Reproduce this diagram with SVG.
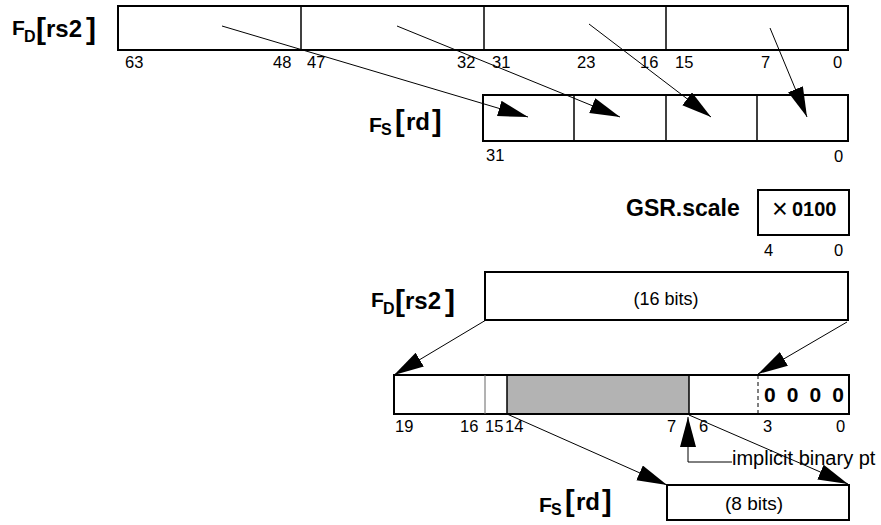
<svg xmlns="http://www.w3.org/2000/svg" width="881" height="525" viewBox="0 0 881 525">
<style>
.box{fill:#fff;stroke:#000;stroke-width:2}
.div{stroke:#000;stroke-width:1.5;fill:none}
.num{font-family:"Liberation Sans",Arial,sans-serif;font-size:16.5px;fill:#000}
.lbl{font-family:"Liberation Sans",Arial,sans-serif;font-weight:bold;fill:#000}
.txt{font-family:"Liberation Sans",Arial,sans-serif;fill:#000}
.con{stroke:#000;stroke-width:1;fill:none}
</style>
<defs>
<marker id="ah" markerUnits="userSpaceOnUse" markerWidth="32" markerHeight="18" refX="30" refY="8" orient="auto" viewBox="0 0 32 18">
<path d="M0,0 L30,8 L0,16 Z" fill="#000"/>
</marker>
<g id="lblFD">
<text class="lbl"><tspan x="12" y="35" font-size="21">F</tspan><tspan x="24" y="42" font-size="16">D</tspan><tspan x="36" y="39" font-size="30">[</tspan><tspan x="46" y="37" font-size="24">rs2</tspan><tspan x="86" y="39" font-size="30">]</tspan></text>
</g>
<g id="lblFS">
<text class="lbl"><tspan x="369" y="132" font-size="21">F</tspan><tspan x="381" y="135" font-size="16">S</tspan><tspan x="395" y="131" font-size="29">[</tspan><tspan x="406" y="130" font-size="24">rd</tspan><tspan x="432" y="131" font-size="29">]</tspan></text>
</g>
</defs>

<g id="fd-rs2-top">
<use href="#lblFD"/>
<rect class="box" x="118" y="6" width="730" height="44"/>
<line class="div" x1="301" y1="6" x2="301" y2="50"/>
<line class="div" x1="484" y1="6" x2="484" y2="50"/>
<line class="div" x1="666" y1="6" x2="666" y2="50"/>
<text class="num" y="68"><tspan x="125">63</tspan><tspan x="273">48</tspan><tspan x="307">47</tspan><tspan x="457">32</tspan><tspan x="492">31</tspan><tspan x="577">23</tspan><tspan x="640">16</tspan><tspan x="675">15</tspan><tspan x="761">7</tspan><tspan x="833">0</tspan></text>
</g>

<g id="fs-rd-top">
<use href="#lblFS"/>
<rect class="box" x="483" y="95" width="365" height="46"/>
<line class="div" x1="574" y1="95" x2="574" y2="141"/>
<line class="div" x1="666" y1="95" x2="666" y2="141"/>
<line class="div" x1="757" y1="95" x2="757" y2="141"/>
<text class="num" x="486" y="161">31</text>
<text class="num" x="834" y="162">0</text>
</g>

<g id="gsr-scale">
<text class="lbl" x="626" y="216" font-size="23">GSR.scale</text>
<rect class="box" x="758" y="190" width="91" height="45"/>
<text class="txt" x="772" y="218" font-size="27">×</text>
<text class="lbl" x="792" y="216" font-size="20">0100</text>
<text class="num" x="764" y="256">4</text>
<text class="num" x="834" y="256">0</text>
</g>

<g id="fd-rs2-bottom">
<use href="#lblFD" transform="translate(359,272)"/>
<rect class="box" x="485" y="272" width="363" height="48"/>
<text class="txt" x="666" y="305" font-size="18" text-anchor="middle">(16 bits)</text>
</g>

<g id="intermediate">
<rect class="box" x="394" y="375" width="455" height="39"/>
<rect x="507" y="376" width="182" height="37" fill="#b3b3b3"/>
<line stroke="#666" stroke-width="1" x1="485" y1="375" x2="485" y2="414"/>
<line class="div" x1="507" y1="375" x2="507" y2="414"/>
<line class="div" x1="689" y1="375" x2="689" y2="414"/>
<line stroke="#000" stroke-width="1" stroke-dasharray="4,3" x1="758" y1="375" x2="758" y2="414"/>
<text class="lbl" x="764" y="402" font-size="21" textLength="80" lengthAdjust="spacing">0 0 0 0</text>
<text class="num" y="432"><tspan x="395">19</tspan><tspan x="460">16</tspan><tspan x="485">15</tspan><tspan x="505">14</tspan><tspan x="667">7</tspan><tspan x="699">6</tspan><tspan x="763">3</tspan><tspan x="836">0</tspan></text>
</g>

<g id="fs-rd-bottom">
<use href="#lblFS" transform="translate(170,380)"/>
<rect class="box" x="667" y="485" width="182" height="35"/>
<text class="txt" x="754" y="510" font-size="19" text-anchor="middle">(8 bits)</text>
</g>

<g id="binary-pt">
<text class="txt" x="732" y="465" font-size="20">implicit binary pt</text>
</g>

<g id="connectors">
<line class="con" x1="222" y1="26" x2="528" y2="117" marker-end="url(#ah)"/>
<line class="con" x1="397" y1="26" x2="620" y2="117" marker-end="url(#ah)"/>
<line class="con" x1="589" y1="24" x2="711" y2="117" marker-end="url(#ah)"/>
<line class="con" x1="770" y1="28" x2="807" y2="117" marker-end="url(#ah)"/>
<line class="con" x1="486" y1="320" x2="394" y2="375" marker-end="url(#ah)"/>
<line class="con" x1="847" y1="322" x2="758" y2="374" marker-end="url(#ah)"/>
<line class="con" x1="507" y1="414" x2="667" y2="485" marker-end="url(#ah)"/>
<line class="con" x1="689" y1="415" x2="848" y2="484" marker-end="url(#ah)"/>
<polyline class="con" points="732,462 688,462 688,417" marker-end="url(#ah)"/>
</g>
</svg>
